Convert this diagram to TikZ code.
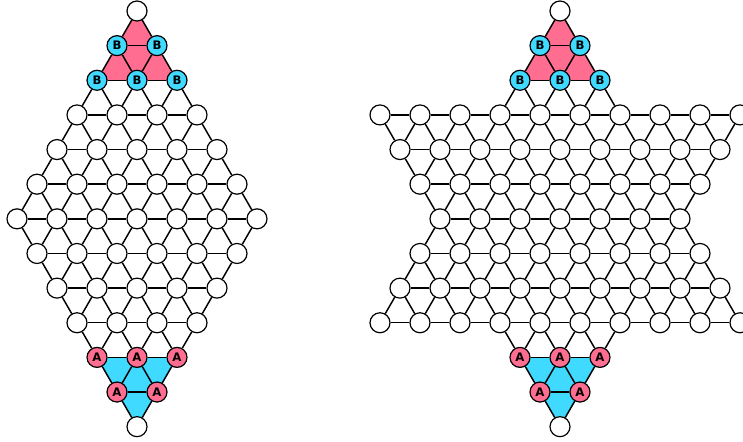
\documentclass[tikz,border=0pt]{standalone}
\usepackage{fontspec}
\setsansfont{DejaVu Sans}
\usepackage{tikz}
\usetikzlibrary{backgrounds}

\definecolor{rose}{RGB}{255,110,145}
\definecolor{ciel}{RGB}{64,217,255}

\begin{document}
\begin{tikzpicture}[x=0.75pt, y=-0.75pt,
  trou/.style={circle, draw, fill=white, minimum size=15pt, inner sep=0pt,
    line width=0.9pt, font=\sffamily\bfseries\fontsize{8.8}{9}\selectfont, node contents={}},
  pionA/.style={trou, fill=rose, node contents={A}},
  pionB/.style={trou, fill=ciel, node contents={B}},
  lien/.style={line width=1.1pt}]
  \useasboundingbox (0,0) rectangle (743,442);

  % Plateau losange
  \foreach \w/\s [count=\r from 0, remember=\w as \wp (initially 0)] in
    {0/trou,1/pionB,2/pionB,3/trou,4/trou,5/trou,6/trou,5/trou,4/trou,3/trou,2/pionA,1/pionA,0/trou} {
    \pgfmathsetmacro{\y}{11+34.64*\r}
    \foreach \i in {0,...,\w} {
      \pgfmathtruncatemacro{\col}{10-\w+2*\i}
      \node (dia-\r-\col) at ({137+20*(\col-10)},\y) [\s];
      \ifnum\i>0
        \pgfmathtruncatemacro{\cg}{\col-2}
        \draw[lien] (dia-\r-\cg) -- (dia-\r-\col);
      \fi
    }
    \ifnum\r>0
      \pgfmathtruncatemacro{\q}{\r-1}
      \ifnum\wp<\w
        \foreach \i in {0,...,\wp} {
          \pgfmathtruncatemacro{\col}{10-\wp+2*\i}
          \pgfmathtruncatemacro{\cg}{\col-1}
          \pgfmathtruncatemacro{\cd}{\col+1}
          \draw[lien] (dia-\q-\col) -- (dia-\r-\cg) (dia-\q-\col) -- (dia-\r-\cd);
        }
      \else
        \foreach \i in {0,...,\w} {
          \pgfmathtruncatemacro{\col}{10-\w+2*\i}
          \pgfmathtruncatemacro{\cg}{\col-1}
          \pgfmathtruncatemacro{\cd}{\col+1}
          \draw[lien] (dia-\r-\col) -- (dia-\q-\cg) (dia-\r-\col) -- (dia-\q-\cd);
        }
      \fi
    \fi
  }

  % Plateau etoile
  \foreach \w/\s [count=\r from 0, remember=\w as \wp (initially 0)] in
    {0/trou,1/pionB,2/pionB,9/trou,8/trou,7/trou,6/trou,7/trou,8/trou,9/trou,2/pionA,1/pionA,0/trou} {
    \pgfmathsetmacro{\y}{11+34.64*\r}
    \foreach \i in {0,...,\w} {
      \pgfmathtruncatemacro{\col}{10-\w+2*\i}
      \node (star-\r-\col) at ({560+20*(\col-10)},\y) [\s];
      \ifnum\i>0
        \pgfmathtruncatemacro{\cg}{\col-2}
        \draw[lien] (star-\r-\cg) -- (star-\r-\col);
      \fi
    }
    \ifnum\r>0
      \pgfmathtruncatemacro{\q}{\r-1}
      \ifnum\wp<\w
        \foreach \i in {0,...,\wp} {
          \pgfmathtruncatemacro{\col}{10-\wp+2*\i}
          \pgfmathtruncatemacro{\cg}{\col-1}
          \pgfmathtruncatemacro{\cd}{\col+1}
          \draw[lien] (star-\q-\col) -- (star-\r-\cg) (star-\q-\col) -- (star-\r-\cd);
        }
      \else
        \foreach \i in {0,...,\w} {
          \pgfmathtruncatemacro{\col}{10-\w+2*\i}
          \pgfmathtruncatemacro{\cg}{\col-1}
          \pgfmathtruncatemacro{\cd}{\col+1}
          \draw[lien] (star-\r-\col) -- (star-\q-\cg) (star-\r-\col) -- (star-\q-\cd);
        }
      \fi
    \fi
  }

  % Triangles de depart (sous les trous)
  \begin{scope}[on background layer]
    \foreach \p in {dia, star} {
      \fill[rose] (\p-0-10.center) -- (\p-2-8.center) -- (\p-2-12.center) -- cycle;
      \fill[ciel] (\p-10-8.center) -- (\p-10-12.center) -- (\p-12-10.center) -- cycle;
    }
  \end{scope}
\end{tikzpicture}
\end{document}
